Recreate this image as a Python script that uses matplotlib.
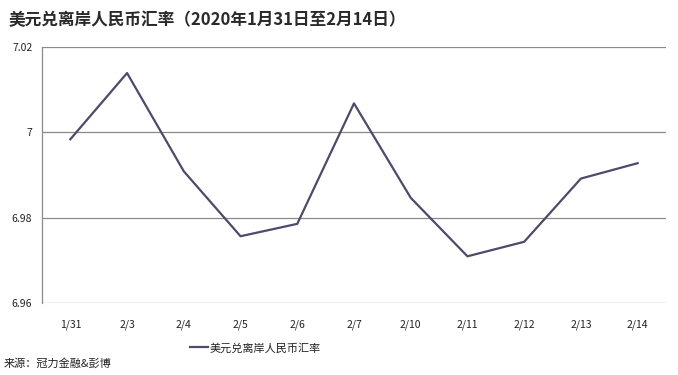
import matplotlib.pyplot as plt
import numpy as np

plt.rcParams["font.family"] = ["Noto Sans CJK SC", "DejaVu Sans"]

dates = ["1/31", "2/3", "2/4", "2/5", "2/6", "2/7", "2/10", "2/11", "2/12", "2/13", "2/14"]
rate = [6.9984, 7.0139, 6.9909, 6.9757, 6.9786, 7.0068, 6.9847, 6.9710, 6.9744, 6.9892, 6.9928]
yticks = [6.96, 6.98, 7.00, 7.02]
ytick_labels = ["6.96", "6.98", "7", "7.02"]

title = "美元兑离岸人民币汇率（2020年1月31日至2月14日）"
series_name = "美元兑离岸人民币汇率"
source = "来源：冠力金融&彭博"

line_color = "#504a6a"
grid_color = "#8a8a8a"
text_color = "#222222"

fig = plt.figure(figsize=(6.78, 3.75), dpi=100)
ax = fig.add_axes([0.0619, 0.1912, 0.9204, 0.6835])

x = np.arange(len(dates))
ax.plot(x, rate, color=line_color, linewidth=1.6, label=series_name)

ax.set_xlim(-0.5, len(dates) - 0.5)
ax.set_ylim(6.96, 7.02)
ax.set_yticks(yticks)
ax.set_yticklabels(ytick_labels)
ax.set_xticks(x)
ax.set_xticklabels(dates)
ax.tick_params(axis="both", length=0, labelsize=7.5, colors=text_color)
ax.tick_params(axis="y", pad=7)
ax.tick_params(axis="x", pad=12)

ax.grid(axis="y", color=grid_color, linewidth=0.9)
ax.set_axisbelow(True)
for side in ["top", "right", "bottom"]:
    ax.spines[side].set_visible(False)
ax.spines["left"].set_color(grid_color)
ax.spines["left"].set_linewidth(0.9)

fig.text(0.013, 0.947, title, fontsize=12, fontweight="bold", color="#2a2a2a",
         ha="left", va="center")

fig.legend(loc="center", bbox_to_anchor=(0.377, 0.072), frameon=False,
           fontsize=8, handlelength=1.6, handletextpad=0.2,
           labelcolor=text_color)

fig.text(0.006, 0.032, source, fontsize=8, color=text_color, ha="left", va="center")

fig.savefig("out.png", dpi=100)
